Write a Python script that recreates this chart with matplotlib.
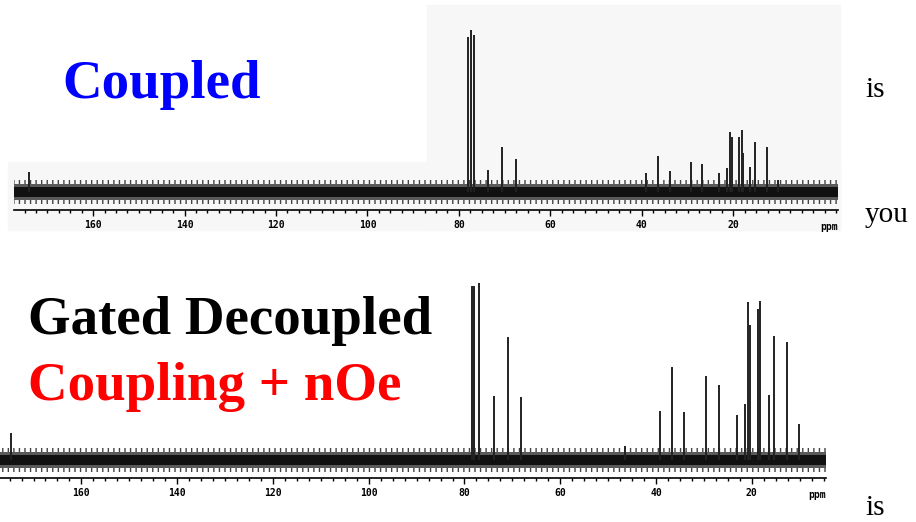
import matplotlib
matplotlib.use("Agg")
import matplotlib.pyplot as plt
from matplotlib.patches import Rectangle
from matplotlib.ticker import MultipleLocator

W, H = 916, 522

# peak positions (ppm) and heights (relative)
coupled_ppm = [174.0, 78.1, 77.4, 76.8, 73.7, 70.5, 67.6, 39.1, 36.5, 33.8, 29.3, 26.8,
               23.1, 21.4, 20.7, 20.3, 18.7, 18.2, 17.8, 16.3, 15.3, 12.7, 10.3]
coupled_height = [20, 155, 162, 157, 22, 45, 33, 19, 36, 21, 30, 28,
                  19, 24, 60, 55, 55, 62, 39, 25, 50, 45, 12]

gated_ppm = [174.8, 78.5, 78.0, 77.0, 73.8, 71.0, 68.1, 46.5, 39.1, 36.6, 34.1, 29.5,
             26.8, 23.1, 21.4, 20.8, 20.4, 18.8, 18.2, 16.4, 15.3, 12.7, 10.2]
gated_height = [27, 174, 174, 177, 64, 123, 63, 14, 49, 93, 48, 84,
                75, 45, 56, 158, 135, 151, 159, 65, 124, 118, 36]

tick_labels = [160, 140, 120, 100, 80, 60, 40, 20]


def px_axes(left, top, right, bottom):
    return fig.add_axes([left / W, 1 - bottom / H, (right - left) / W, (bottom - top) / H])


def spectrum(ax, ppm, height, xlim, ylim):
    ax.set_facecolor("none")
    ax.set_xlim(*xlim)
    ax.set_ylim(*ylim)
    # noise band
    ax.fill_between(list(xlim), [-12, -12], [12, 12], facecolor="none",
                    edgecolor="#444444", hatch="|||", linewidth=0)
    ax.fill_between(list(xlim), [-8, -8], [8, 8], color="#5a5a5a", linewidth=0)
    ax.fill_between(list(xlim), [-5, -5], [5, 5], color="#111111", linewidth=0)
    ax.vlines(ppm, 0, height, color="#222222", linewidth=1.4)
    for s in ["top", "left", "right"]:
        ax.spines[s].set_visible(False)
    ax.spines["bottom"].set_linewidth(1.2)
    ax.set_yticks([])
    ax.xaxis.set_minor_locator(MultipleLocator(2.5))
    ax.set_xticks(tick_labels)
    ax.set_xticklabels([str(t) for t in tick_labels], fontsize=7, fontweight="bold",
                       family="DejaVu Sans Mono")
    ax.tick_params(axis="x", which="major", length=4, width=1, pad=3)
    ax.tick_params(axis="x", which="minor", length=2.5, width=1)
    ax.text(1.0, -0.06, "ppm", transform=ax.transAxes, ha="right", va="top",
            fontsize=7, fontweight="bold", family="DejaVu Sans Mono")


fig = plt.figure(figsize=(W / 100, H / 100), dpi=100)

# light grey scan background behind the coupled spectrum
bg = "#f7f7f7"
fig.patches.append(Rectangle((427 / W, 1 - 230 / H), (840 - 427) / W, 225 / H,
                             transform=fig.transFigure, color=bg, zorder=-10))
fig.patches.append(Rectangle((8 / W, 1 - 230 / H), (840 - 8) / W, 68 / H,
                             transform=fig.transFigure, color=bg, zorder=-10))

ax1 = px_axes(14, 5, 838, 210)
spectrum(ax1, coupled_ppm, coupled_height, (177.3, -2.9), (-18, 187))

ax2 = px_axes(0, 270, 826, 478)
spectrum(ax2, gated_ppm, gated_height, (177.0, 4.5), (-18, 190))

serif = "Liberation Serif"
fig.text(62 / W, 1 - 98 / H, "Coupled", color="#0000ff", fontsize=39.5,
         fontweight="bold", family=serif, va="baseline")
fig.text(28 / W, 1 - 334 / H, "Gated Decoupled", color="black", fontsize=39.5,
         fontweight="bold", family=serif, va="baseline")
fig.text(28 / W, 1 - 400 / H, "Coupling + nOe", color="#ff0000", fontsize=39.5,
         fontweight="bold", family=serif, va="baseline")

fig.text(865 / W, 1 - 97 / H, "is", fontsize=21, family=serif, va="baseline")
fig.text(865 / W, 1 - 222 / H, "you", fontsize=21, family=serif, va="baseline")
fig.text(865 / W, 1 - 515 / H, "is", fontsize=21, family=serif, va="baseline")

fig.savefig("out.png", dpi=100)
